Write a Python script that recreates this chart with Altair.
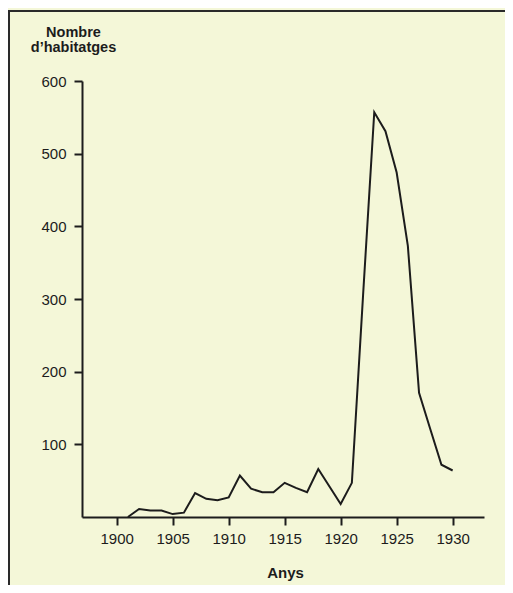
import altair as alt
import pandas as pd

years = list(range(1901, 1931))
habitatges = [0, 11, 9, 9, 4, 6, 33, 25, 23, 27,
              57, 39, 34, 34, 47, 40, 34, 66, 42, 18,
              47, 305, 557, 531, 474, 373, 171, 121, 72, 64]
x_ticks = [1900, 1905, 1910, 1915, 1920, 1925, 1930]
y_ticks = [100, 200, 300, 400, 500, 600]

df = pd.DataFrame({"Any": years, "Habitatges": habitatges})

FONT = "Liberation Sans"
INK = "#1c1c1c"
BG = "#f4f7d8"

line = alt.Chart(df).mark_line(color=INK, strokeWidth=2, strokeJoin="miter").encode(
    x=alt.X("Any:Q",
            scale=alt.Scale(domain=[1896.9, 1932.8], nice=False, zero=False),
            axis=alt.Axis(values=x_ticks, format="d", title="Anys",
                          titleFontSize=15, titleFontWeight="bold", titleFont=FONT,
                          titleColor=INK, titleX=203, titleY=48, titleBaseline="top",
                          titleAnchor="start", titleAlign="center",
                          labelFontSize=15, labelFont=FONT, labelColor=INK,
                          labelPadding=6, tickSize=8, tickWidth=2, tickColor=INK,
                          domainColor=INK, domainWidth=2, grid=False)),
    y=alt.Y("Habitatges:Q",
            scale=alt.Scale(domain=[0, 600], nice=False),
            axis=alt.Axis(values=y_ticks, title=["Nombre", "d\u2019habitatges"],
                          titleAngle=0, titleFontSize=14.5, titleFontWeight="bold",
                          titleFont=FONT, titleColor=INK, titleX=-9, titleY=-56,
                          titleAlign="center", titleBaseline="top", titleLineHeight=15,
                          labelFontSize=15, labelFont=FONT, labelColor=INK,
                          labelPadding=8, tickSize=8, tickWidth=2, tickColor=INK,
                          domainColor=INK, domainWidth=2, grid=False)),
)

frame_df = pd.DataFrame({"f": [0]})
top_border = alt.Chart(frame_df).mark_rule(color="#2a2a2a", strokeWidth=2).encode(
    x=alt.value(-74), x2=alt.value(423), y=alt.value(-70)
)
left_border = alt.Chart(frame_df).mark_rule(color="#2a2a2a", strokeWidth=2).encode(
    x=alt.value(-73), y=alt.value(-70), y2=alt.value(504)
)

chart = alt.layer(top_border, left_border, line).properties(
    width=402,
    height=436,
    autosize=alt.AutoSizeParams(type="none"),
    padding={"left": 74, "top": 73, "right": 21, "bottom": 68},
    background=BG,
).configure_view(stroke=None)

chart.save("out.html", embed_options={"renderer": "svg", "actions": False})
